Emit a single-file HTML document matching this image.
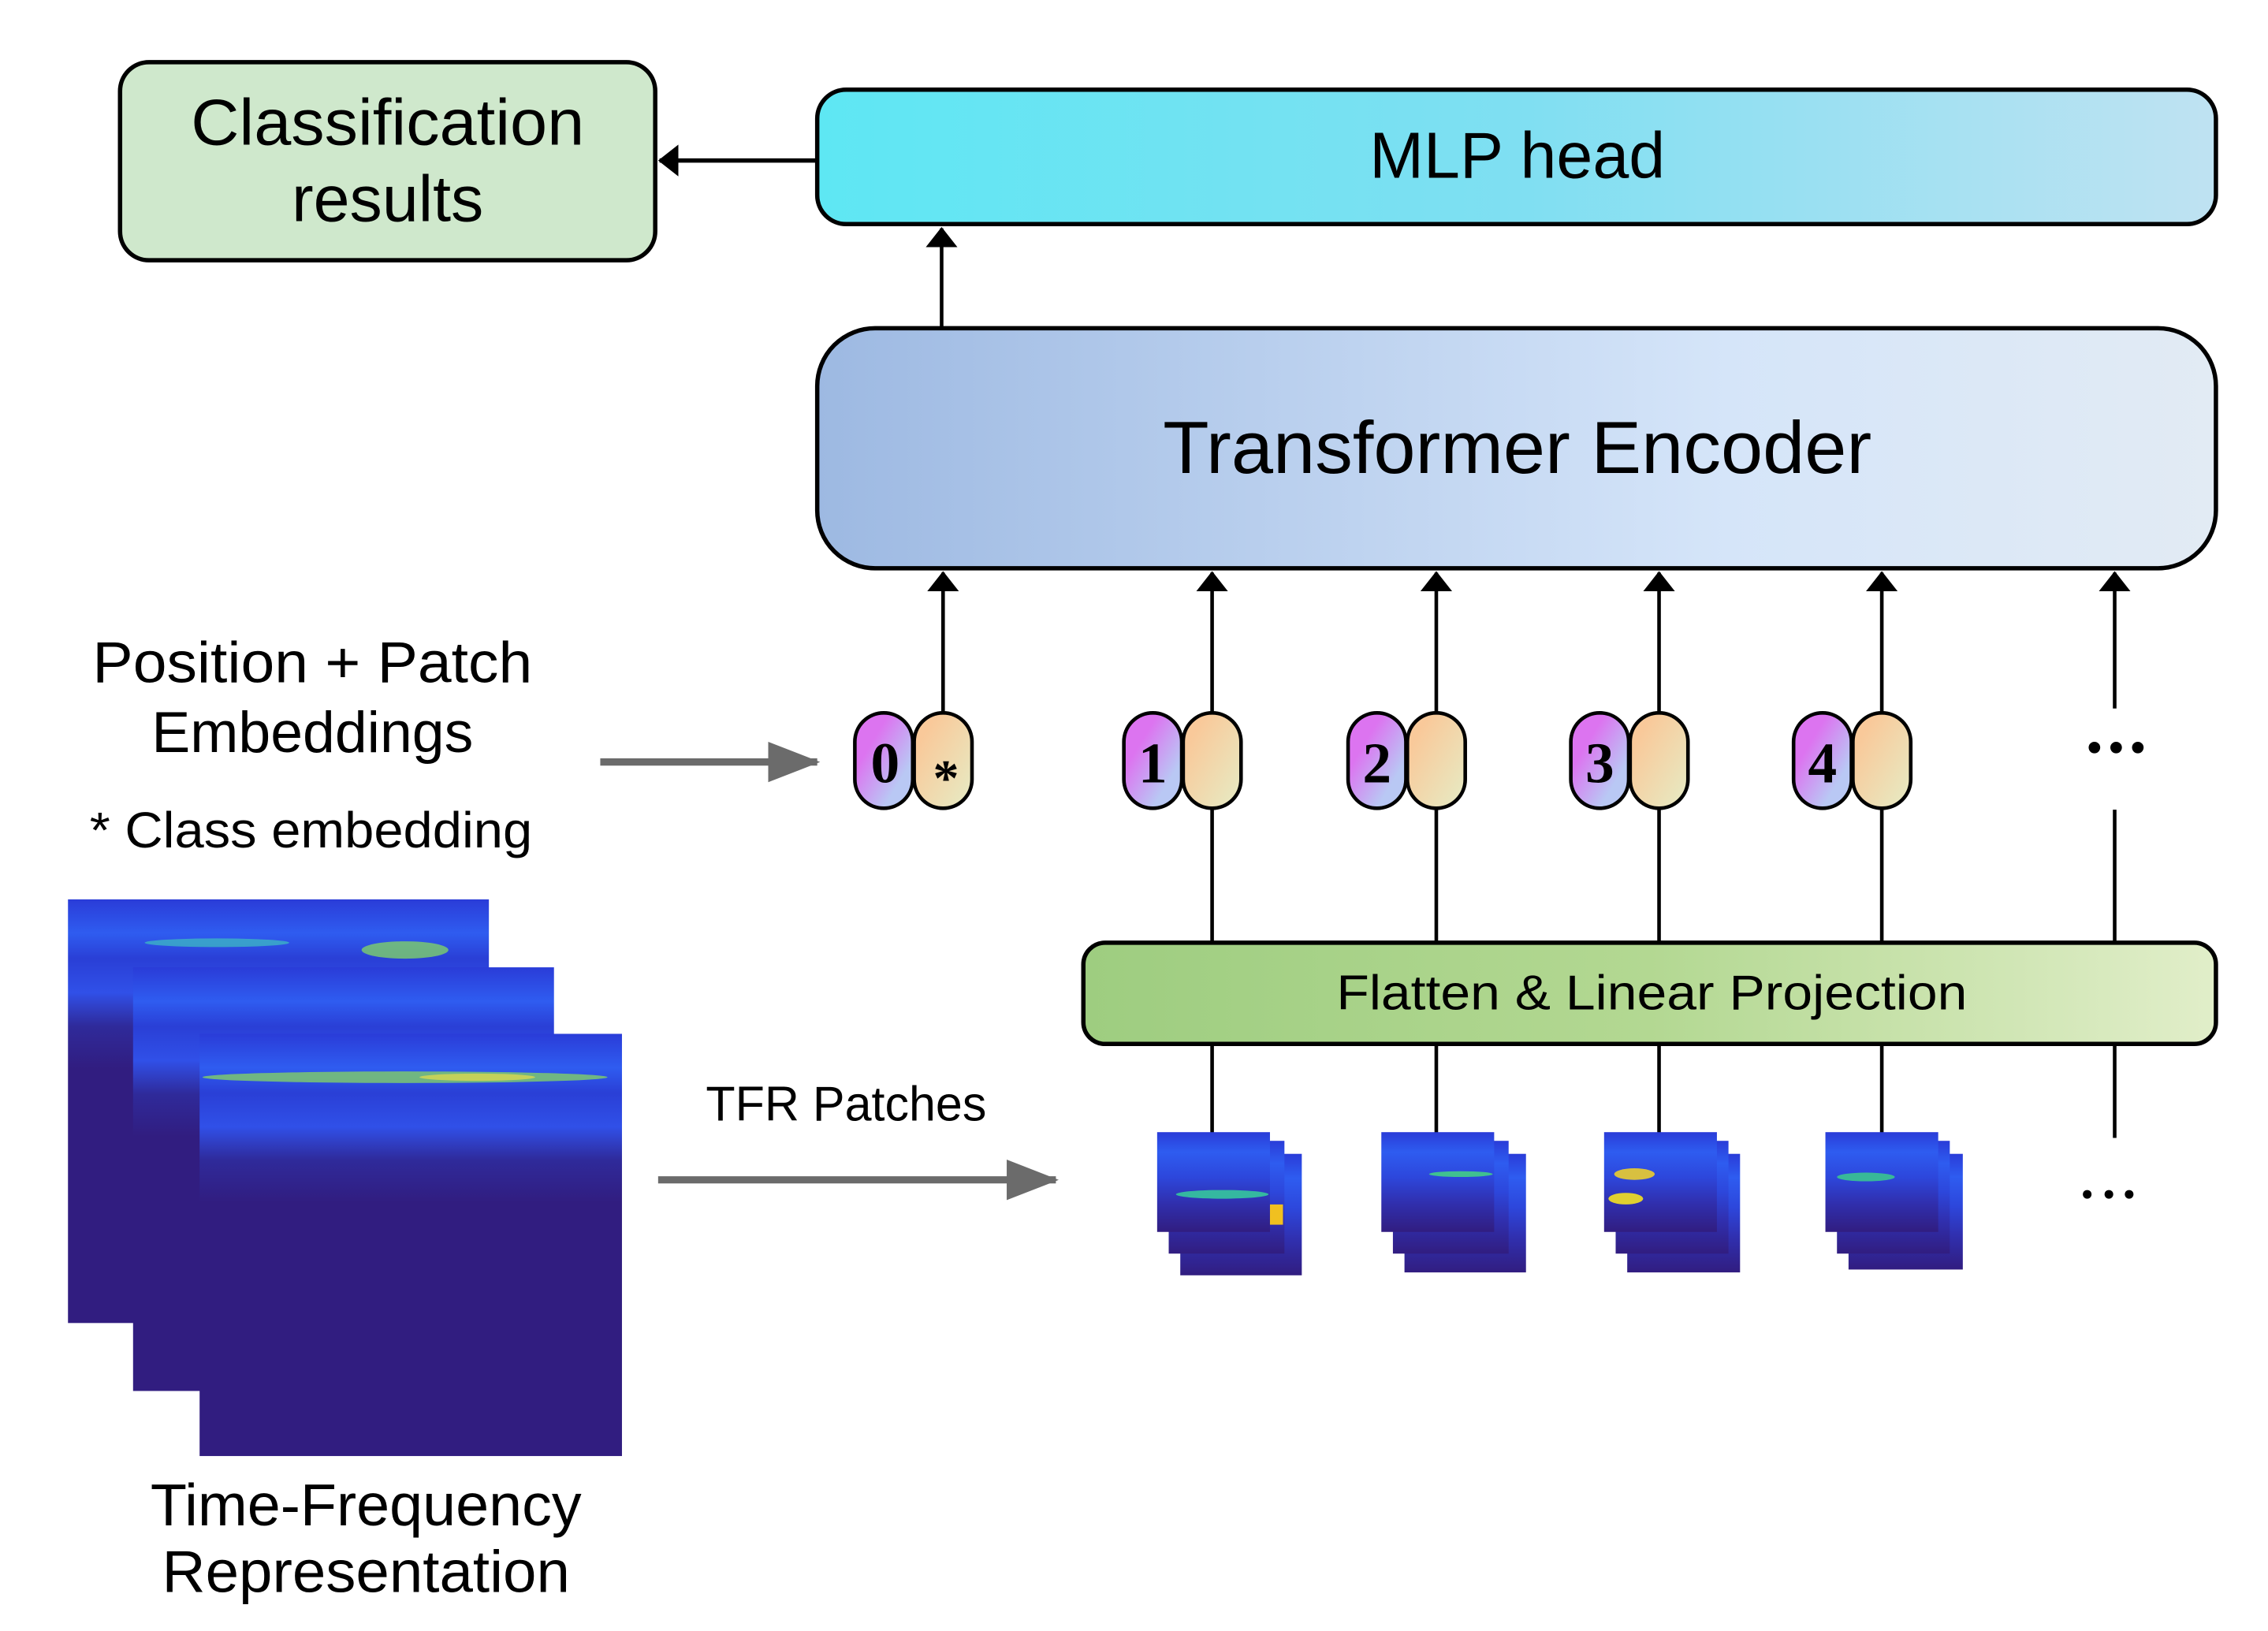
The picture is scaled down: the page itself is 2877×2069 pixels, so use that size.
<!DOCTYPE html>
<html><head><meta charset="utf-8"><style>
html,body{margin:0;padding:0;background:#fff}
svg{display:block}
text{font-family:"Liberation Sans",sans-serif;fill:#000}
</style></head><body>
<svg width="2877" height="2069" viewBox="0 0 1568 1128" preserveAspectRatio="none" xmlns="http://www.w3.org/2000/svg">
<defs>
<linearGradient id="mlp" x1="0" x2="1" y1="0" y2="0"><stop offset="0" stop-color="#5ee7f3"/><stop offset="0.5" stop-color="#7fdff2"/><stop offset="1" stop-color="#bfe2f2"/></linearGradient>
<linearGradient id="enc" x1="0" x2="1" y1="0" y2="0"><stop offset="0" stop-color="#9db9e2"/><stop offset="0.65" stop-color="#d5e5f9"/><stop offset="1" stop-color="#e2ebf4"/></linearGradient>
<linearGradient id="fl" x1="0" x2="1" y1="0" y2="0"><stop offset="0" stop-color="#9ecd80"/><stop offset="0.5" stop-color="#b3d892"/><stop offset="1" stop-color="#e1eec9"/></linearGradient>
<linearGradient id="pur" x1="0" y1="0" x2="1" y2="1"><stop offset="0.3" stop-color="#dc74f0"/><stop offset="0.75" stop-color="#b9c8f4"/></linearGradient>
<linearGradient id="org" x1="0" y1="0" x2="1" y2="1"><stop offset="0.2" stop-color="#f9c99a"/><stop offset="0.9" stop-color="#e8e8c0"/></linearGradient>
<linearGradient id="spec" x1="0" y1="0" x2="0" y2="1"><stop offset="0" stop-color="#2a3cd8"/><stop offset="0.08" stop-color="#2f5cf0"/><stop offset="0.14" stop-color="#2a3fd6"/><stop offset="0.22" stop-color="#3050e8"/><stop offset="0.3" stop-color="#2f2a9a"/><stop offset="0.4" stop-color="#311d80"/><stop offset="1" stop-color="#311d80"/></linearGradient>
<linearGradient id="pat" x1="0" y1="0" x2="0" y2="1"><stop offset="0" stop-color="#2a3cd8"/><stop offset="0.2" stop-color="#2e5cf0"/><stop offset="0.45" stop-color="#2d47dc"/><stop offset="0.7" stop-color="#3030b0"/><stop offset="1" stop-color="#311d80"/></linearGradient>
<marker id="ahl" markerWidth="14" markerHeight="22" refX="13" refY="11" orient="auto" markerUnits="userSpaceOnUse"><path d="M0,0 L14,11 L0,22 Z" fill="#000"/></marker>
<marker id="ag" markerWidth="36" markerHeight="28" refX="34" refY="14" orient="auto" markerUnits="userSpaceOnUse"><path d="M0,0 L36,14 L0,28 Z" fill="#6b6b6b"/></marker>
</defs>

<rect x="83" y="43" width="370" height="137" rx="20" fill="#cfe8cc" stroke="#000" stroke-width="3"/>
<text x="268" y="100" font-size="45" text-anchor="middle" textLength="272" lengthAdjust="spacingAndGlyphs">Classification</text>
<text x="268" y="153" font-size="45" text-anchor="middle">results</text>

<rect x="565" y="62" width="967" height="93" rx="20" fill="url(#mlp)" stroke="#000" stroke-width="3"/>
<text x="1049" y="123" font-size="45" text-anchor="middle">MLP head</text>
<line x1="565" y1="111" x2="456" y2="111" stroke="#000" stroke-width="3" marker-end="url(#ahl)"/>
<line x1="651" y1="227" x2="651" y2="158" stroke="#000" stroke-width="2.5" marker-end="url(#ahl)"/>

<rect x="565" y="227" width="967" height="166" rx="40" fill="url(#enc)" stroke="#000" stroke-width="3"/>
<text x="1049" y="327" font-size="51" text-anchor="middle" textLength="490" lengthAdjust="spacingAndGlyphs">Transformer Encoder</text>

<g stroke="#000" stroke-width="2.5">
<line x1="652" y1="493" x2="652" y2="396" marker-end="url(#ahl)"/>
<line x1="838" y1="493" x2="838" y2="396" marker-end="url(#ahl)"/>
<line x1="993" y1="493" x2="993" y2="396" marker-end="url(#ahl)"/>
<line x1="1147" y1="493" x2="1147" y2="396" marker-end="url(#ahl)"/>
<line x1="1301" y1="493" x2="1301" y2="396" marker-end="url(#ahl)"/>
<line x1="1462" y1="490" x2="1462" y2="396" marker-end="url(#ahl)"/>
<line x1="838" y1="558" x2="838" y2="652"/>
<line x1="993" y1="558" x2="993" y2="652"/>
<line x1="1147" y1="558" x2="1147" y2="652"/>
<line x1="1301" y1="558" x2="1301" y2="652"/>
<line x1="1462" y1="560" x2="1462" y2="652"/>
<line x1="838" y1="722" x2="838" y2="786"/>
<line x1="993" y1="722" x2="993" y2="786"/>
<line x1="1147" y1="722" x2="1147" y2="786"/>
<line x1="1301" y1="722" x2="1301" y2="786"/>
<line x1="1462" y1="722" x2="1462" y2="787"/>
</g>

<g stroke="#000" stroke-width="2.5">
<rect x="591" y="493" width="40" height="66" rx="20" fill="url(#pur)"/>
<rect x="632" y="493" width="40" height="66" rx="20" fill="url(#org)"/>
<rect x="777" y="493" width="40" height="66" rx="20" fill="url(#pur)"/>
<rect x="818" y="493" width="40" height="66" rx="20" fill="url(#org)"/>
<rect x="932" y="493" width="40" height="66" rx="20" fill="url(#pur)"/>
<rect x="973" y="493" width="40" height="66" rx="20" fill="url(#org)"/>
<rect x="1086" y="493" width="40" height="66" rx="20" fill="url(#pur)"/>
<rect x="1127" y="493" width="40" height="66" rx="20" fill="url(#org)"/>
<rect x="1240" y="493" width="40" height="66" rx="20" fill="url(#pur)"/>
<rect x="1281" y="493" width="40" height="66" rx="20" fill="url(#org)"/>
</g>
<g font-weight="bold" font-size="40" text-anchor="middle">
<text x="612" y="541" style="font-family:'Liberation Serif',serif">0</text>
<text x="654" y="550" style="font-family:'Liberation Serif',serif" font-size="36">*</text>
<text x="797" y="541" style="font-family:'Liberation Serif',serif">1</text>
<text x="952" y="541" style="font-family:'Liberation Serif',serif">2</text>
<text x="1106" y="541" style="font-family:'Liberation Serif',serif">3</text>
<text x="1260" y="541" style="font-family:'Liberation Serif',serif">4</text>
</g>
<g fill="#000"><circle cx="1448" cy="517" r="4"/><circle cx="1463" cy="517" r="4"/><circle cx="1478" cy="517" r="4"/>
<circle cx="1443" cy="826" r="3"/><circle cx="1458" cy="826" r="3"/><circle cx="1472" cy="826" r="3"/></g>

<rect x="749" y="652" width="783" height="70" rx="15" fill="url(#fl)" stroke="#000" stroke-width="3"/>
<text x="1142" y="698" font-size="34" text-anchor="middle" textLength="436" lengthAdjust="spacingAndGlyphs">Flatten &amp; Linear Projection</text>

<text x="216" y="472" font-size="40" text-anchor="middle" textLength="304" lengthAdjust="spacingAndGlyphs">Position + Patch</text>
<text x="216" y="520" font-size="40" text-anchor="middle">Embeddings</text>
<text x="215" y="586" font-size="35" text-anchor="middle" textLength="306" lengthAdjust="spacingAndGlyphs">* Class embedding</text>
<line x1="415" y1="527" x2="565" y2="527" stroke="#6b6b6b" stroke-width="5" marker-end="url(#ag)"/>

<g>
<rect x="47" y="622" width="291" height="293" fill="url(#spec)"/>
<ellipse cx="280" cy="657" rx="30" ry="6" fill="#7ed06a" opacity="0.8"/>
<ellipse cx="150" cy="652" rx="50" ry="3" fill="#3fc0c0" opacity="0.7"/>
<rect x="92" y="669" width="291" height="293" fill="url(#spec)"/>
<rect x="138" y="715" width="292" height="292" fill="url(#spec)"/>
<ellipse cx="280" cy="745" rx="140" ry="4" fill="#7cc870" opacity="0.85"/>
<ellipse cx="330" cy="745" rx="40" ry="2.5" fill="#d8d850" opacity="0.8"/>
</g>
<text x="253" y="1055" font-size="41" text-anchor="middle" textLength="298" lengthAdjust="spacingAndGlyphs">Time-Frequency</text>
<text x="253" y="1101" font-size="41" text-anchor="middle" textLength="282" lengthAdjust="spacingAndGlyphs">Representation</text>

<text x="585" y="775" font-size="34" text-anchor="middle" textLength="194" lengthAdjust="spacingAndGlyphs">TFR Patches</text>
<line x1="455" y1="816" x2="730" y2="816" stroke="#6b6b6b" stroke-width="5" marker-end="url(#ag)"/>

<g>
<rect x="816" y="798" width="84" height="84" fill="url(#pat)"/>
<rect x="808" y="789" width="80" height="78" fill="url(#pat)"/>
<rect x="800" y="783" width="78" height="69" fill="url(#pat)"/>
<ellipse cx="845" cy="826" rx="32" ry="3" fill="#35b8a0"/>
<rect x="878" y="833" width="9" height="14" fill="#f0c020"/>

<rect x="971" y="798" width="84" height="82" fill="url(#pat)"/>
<rect x="963" y="789" width="80" height="78" fill="url(#pat)"/>
<rect x="955" y="783" width="78" height="69" fill="url(#pat)"/>
<ellipse cx="1010" cy="812" rx="22" ry="2" fill="#40c090"/>

<rect x="1125" y="798" width="78" height="82" fill="url(#pat)"/>
<rect x="1117" y="789" width="78" height="78" fill="url(#pat)"/>
<rect x="1109" y="783" width="78" height="69" fill="url(#pat)"/>
<ellipse cx="1130" cy="812" rx="14" ry="4" fill="#d8c040"/>
<ellipse cx="1124" cy="829" rx="12" ry="4" fill="#e0d030"/>

<rect x="1278" y="798" width="79" height="80" fill="url(#pat)"/>
<rect x="1270" y="789" width="78" height="78" fill="url(#pat)"/>
<rect x="1262" y="783" width="78" height="69" fill="url(#pat)"/>
<ellipse cx="1290" cy="814" rx="20" ry="3" fill="#38b898"/>
</g>
</svg>
</body></html>
